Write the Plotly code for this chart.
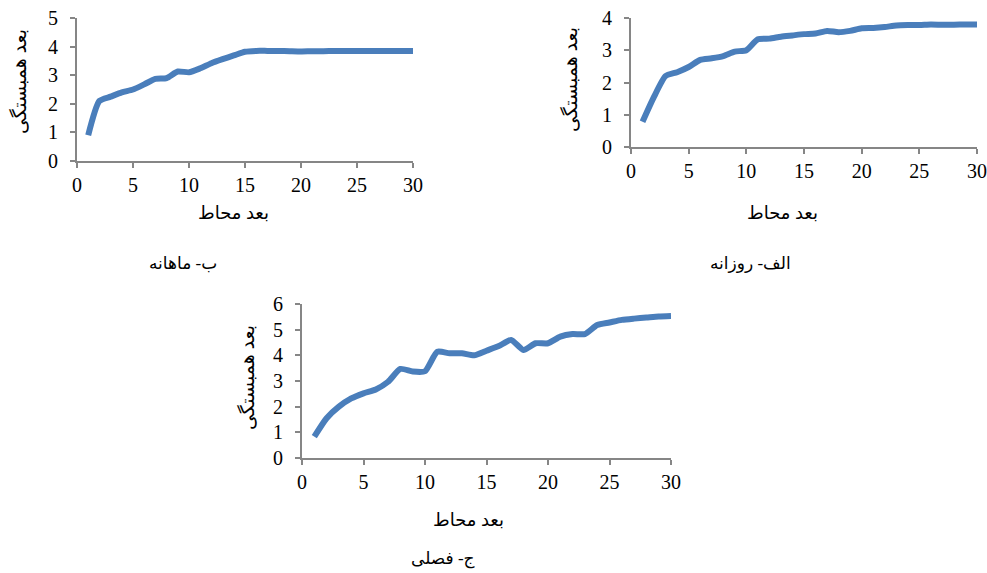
import plotly.graph_objects as go

lags = list(range(1, 31))
monthly = [0.9, 2.1, 2.25, 2.4, 2.5, 2.68, 2.87, 2.9, 3.13, 3.1, 3.24, 3.42, 3.56, 3.69, 3.82,
           3.85, 3.85, 3.85, 3.84, 3.83, 3.84, 3.84, 3.85, 3.85, 3.85, 3.85, 3.85, 3.85, 3.85, 3.85]
daily = [0.78, 1.56, 2.2, 2.32, 2.48, 2.7, 2.75, 2.82, 2.96, 3.0, 3.34, 3.36, 3.42, 3.46, 3.5,
         3.52, 3.6, 3.56, 3.6, 3.68, 3.69, 3.72, 3.77, 3.78, 3.78, 3.8, 3.79, 3.79, 3.8, 3.8]
seasonal = [0.83, 1.55, 2.0, 2.32, 2.52, 2.67, 2.97, 3.47, 3.37, 3.38, 4.14, 4.08, 4.08, 4.0, 4.18,
            4.36, 4.6, 4.21, 4.47, 4.47, 4.73, 4.83, 4.83, 5.18, 5.28, 5.38, 5.43, 5.47, 5.51, 5.53]

x_title = "بعد محاط"
y_title = "بعد همبستگی"
captions = ["ب- ماهانه", "الف- روزانه", "ج- فصلی"]

LINE = "#4A7EBB"
AX = "#868686"
FONT = "Liberation Serif, Times New Roman, DejaVu Serif, DejaVu Sans"

fig = go.Figure()
series = [monthly, daily, seasonal]
for i, s in enumerate(series):
    sfx = "" if i == 0 else str(i + 1)
    fig.add_trace(go.Scatter(x=lags, y=s, mode="lines",
                             line=dict(color=LINE, width=6, shape="spline", smoothing=0.6),
                             xaxis="x" + sfx, yaxis="y" + sfx, showlegend=False,
                             hoverinfo="x+y"))

W, H = 987, 573
def px(xp): return xp / W
def py(yp): return 1 - yp / H

axis_common = dict(showline=True, linecolor=AX, linewidth=2, ticks="outside", tickcolor=AX,
                   ticklen=5, tickwidth=2, showgrid=False, zeroline=False, automargin=False,
                   tickfont=dict(family=FONT, size=20, color="black"), fixedrange=True)

boxes = [  # (x0, x1, ytop, ybottom) in pixels
    (77, 413, 18, 161),
    (631, 977, 18, 147),
    (302, 671, 304, 458),
]
yranges = [5, 4, 6]
layout = {}
for i, (x0, x1, yt, yb) in enumerate(boxes):
    sfx = "" if i == 0 else str(i + 1)
    layout["xaxis" + sfx] = dict(axis_common, domain=[px(x0), px(x1)], range=[0, 30],
                                 tickvals=[0, 5, 10, 15, 20, 25, 30], anchor="y" + sfx)
    layout["yaxis" + sfx] = dict(axis_common, domain=[py(yb), py(yt)], range=[0, yranges[i]],
                                 dtick=1, anchor="x" + sfx, ticklabelstandoff=8)

annotations = []
ytitle_pos = [(19, 82), (570, 80), (247, 378)]
xtitle_pos = [(233, 213), (782, 213), (468, 520)]
cap_pos = [(183, 263), (750, 263), (443, 559)]
common_ann = dict(xref="paper", yref="paper", showarrow=False, xanchor="center", yanchor="middle")
for i in range(3):
    annotations.append(dict(common_ann, text=y_title, x=px(ytitle_pos[i][0]), y=py(ytitle_pos[i][1]),
                            textangle=-90, font=dict(family=FONT, size=19, color="black")))
    annotations.append(dict(common_ann, text=x_title, x=px(xtitle_pos[i][0]), y=py(xtitle_pos[i][1]),
                            font=dict(family=FONT, size=18, color="black")))
    annotations.append(dict(common_ann, text=captions[i], x=px(cap_pos[i][0]), y=py(cap_pos[i][1]),
                            font=dict(family=FONT, size=17, color="black")))

fig.update_layout(width=W, height=H, margin=dict(l=0, r=0, t=0, b=0),
                  paper_bgcolor="white", plot_bgcolor="white",
                  annotations=annotations, **layout)

fig.write_html("out.html")
